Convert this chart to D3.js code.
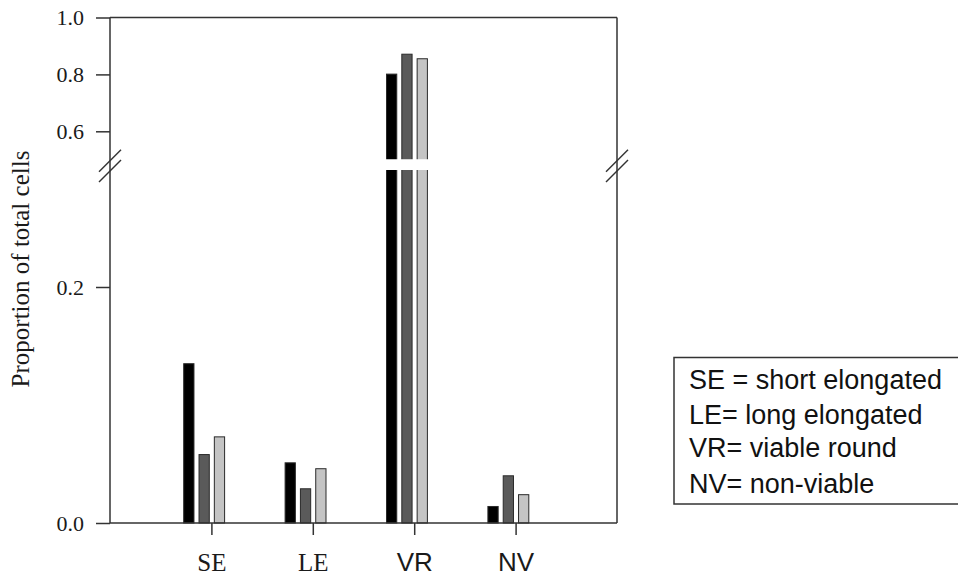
<!DOCTYPE html>
<html>
<head>
<meta charset="utf-8">
<script src="https://cdn.jsdelivr.net/npm/d3@7/dist/d3.min.js"></script>
<style>
  html, body { margin: 0; padding: 0; background: #fff; }
  svg { display: block; }
</style>
</head>
<body>
<svg id="chart" width="958" height="578"></svg>
<script>
// Cell morphology categories and the three treatment series
const categories = ["SE", "LE", "VR", "NV"];
const series = ["A", "B", "C"];
const valuesA = [0.135, 0.051, 0.801, 0.014];
const valuesB = [0.058, 0.029, 0.871, 0.040];
const valuesC = [0.073, 0.046, 0.855, 0.024];
const yTickValues = [0.0, 0.2, 0.6, 0.8, 1.0];
const legendLines = [
  "SE = short elongated",
  "LE= long elongated",
  "VR= viable round",
  "NV= non-viable"
];
// Broken y axis: lower segment 0–0.3, upper segment 0.5–1.0
const breakLow = 0.3;
const breakHigh = 0.5;

(function draw() {
  const svg = d3.select("#chart");
  const plotLeft = 110, plotRight = 617, plotTop = 17.5, plotBottom = 523;
  const axisColor = "#333";
  const serif = "'Liberation Serif', 'Times New Roman', serif";
  const sans = "'Liberation Sans', Arial, sans-serif";
  const sansLabels = new Set(["VR", "NV"]);
  const fills = { A: "#000000", B: "#5a5a5a", C: "#c4c4c4" };

  const x = d3.scaleLinear().domain([0, categories.length + 1]).range([plotLeft, plotRight]);
  const y = d3.scaleLinear()
    .domain([0, breakLow, breakHigh, 1.0])
    .range([plotBottom, 169, 159.75, plotTop]);
  const inner = d3.scaleBand().domain(series).range([-27.7, 13.2]).paddingInner(0.33);

  const rows = categories.map((c, i) => ({
    cat: c, pos: i + 1,
    vals: { A: valuesA[i], B: valuesB[i], C: valuesC[i] }
  }));

  // Bars
  const g = svg.append("g");
  rows.forEach(r => {
    series.forEach(s => {
      g.append("rect")
        .attr("x", x(r.pos) + inner(s))
        .attr("width", inner.bandwidth())
        .attr("y", y(r.vals[s]))
        .attr("height", y(0) - y(r.vals[s]))
        .attr("fill", fills[s])
        .attr("stroke", "#2a2a2a")
        .attr("stroke-width", 1);
    });
  });

  // White gap where the axis is broken
  svg.append("rect")
    .attr("x", plotLeft + 1).attr("width", plotRight - plotLeft - 2)
    .attr("y", y(breakHigh) - 0.5)
    .attr("height", y(breakLow) - y(breakHigh) + 1.5)
    .attr("fill", "#fff");

  // Frame
  const frame = svg.append("g").attr("stroke", axisColor).attr("stroke-width", 1.5).attr("fill", "none");
  frame.append("line").attr("x1", plotLeft).attr("x2", plotRight).attr("y1", plotTop).attr("y2", plotTop);
  frame.append("line").attr("x1", plotLeft).attr("x2", plotRight).attr("y1", plotBottom).attr("y2", plotBottom);
  frame.append("line").attr("x1", plotRight).attr("x2", plotRight).attr("y1", plotTop).attr("y2", plotBottom);

  // Left axis
  const yAxis = svg.append("g")
    .attr("transform", `translate(${plotLeft},0)`)
    .call(d3.axisLeft(y).tickValues(yTickValues).tickSize(14).tickPadding(12)
      .tickFormat(d3.format(".1f")));
  yAxis.select(".domain").attr("d", `M0,${plotTop}V${plotBottom}`).attr("stroke", axisColor).attr("stroke-width", 1.5);
  yAxis.selectAll(".tick line").attr("stroke", axisColor).attr("stroke-width", 1.5);
  yAxis.selectAll(".tick text")
    .attr("font-family", serif).attr("font-size", 22).attr("fill", "#1a1a1a").attr("dy", "0.34em");

  // Bottom axis
  const xAxis = svg.append("g")
    .attr("transform", `translate(0,${plotBottom})`)
    .call(d3.axisBottom(x).tickValues(rows.map(r => r.pos)).tickSize(12).tickPadding(18)
      .tickFormat(d => categories[d - 1]));
  xAxis.select(".domain").remove();
  xAxis.selectAll(".tick line").attr("stroke", axisColor).attr("stroke-width", 1.5);
  xAxis.selectAll(".tick text")
    .attr("font-family", d => sansLabels.has(categories[d - 1]) ? sans : serif)
    .attr("font-size", d => sansLabels.has(categories[d - 1]) ? 26 : 25)
    .attr("fill", "#1a1a1a");

  // Break slashes on both side axes
  [plotLeft, plotRight].forEach(ax => {
    [y(breakHigh) + 1, y(breakLow) + 2].forEach(cy => {
      svg.append("line")
        .attr("x1", ax - 11).attr("y1", cy + 11)
        .attr("x2", ax + 11).attr("y2", cy - 11)
        .attr("stroke", axisColor).attr("stroke-width", 1.5);
    });
  });

  // Y axis title
  svg.append("text")
    .attr("transform", "translate(29,269) rotate(-90)")
    .attr("text-anchor", "middle")
    .attr("font-family", serif).attr("font-size", 25).attr("fill", "#1a1a1a")
    .text("Proportion of total cells");

  // Category key
  svg.append("rect")
    .attr("x", 674).attr("y", 357.5).attr("width", 300).attr("height", 146.5)
    .attr("fill", "#fff").attr("stroke", axisColor).attr("stroke-width", 1.5);
  const baselines = [389, 424, 457, 493];
  svg.append("g").selectAll("text").data(legendLines).join("text")
    .attr("x", 689).attr("y", (d, i) => baselines[i])
    .attr("font-family", sans).attr("font-size", 27).attr("fill", "#111")
    .text(d => d);
})();
</script>
</body>
</html>
